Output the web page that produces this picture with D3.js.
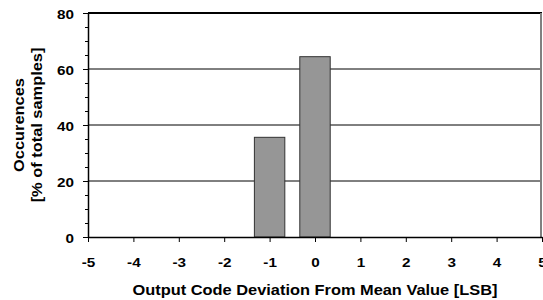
<!DOCTYPE html>
<html>
<head>
<meta charset="utf-8">
<script src="https://cdn.jsdelivr.net/npm/d3@7"></script>
<style>
  body { margin: 0; background: #fff; }
  svg text { font-family: "Liberation Sans", Arial, sans-serif; font-weight: bold; fill: #000; }
</style>
</head>
<body>
<div id="chart"></div>
<script>
// histogram of output code deviation
var codes = [-1, 0];
var occurences = [35.6, 64.4];
var xTicks = [-5, -4, -3, -2, -1, 0, 1, 2, 3, 4, 5];
var yTicks = [0, 20, 40, 60, 80];
var yMinorTicks = d3.range(0, 81, 5);

var margin = {top: 13, right: 1, bottom: 63, left: 88},
  width = 543 - margin.left - margin.right,
  height = 300 - margin.top - margin.bottom;

var svg = d3.select("#chart")
  .append("svg")
    .attr("width", 543)
    .attr("height", 300)
  .append("g")
    .attr("transform", "translate(" + margin.left + "," + margin.top + ")");

var x = d3.scaleLinear().domain([-5, 5]).range([0, width]);
var y = d3.scaleLinear().domain([0, 80]).range([height, 0]);
var barW = (x(1) - x(0)) * 0.67;

// the original glyphs are wider than Liberation Sans, stretch them a bit
function widen(sel, k) {
  sel.each(function() {
    var len = this.getComputedTextLength();
    d3.select(this)
      .attr("textLength", len * k)
      .attr("lengthAdjust", "spacingAndGlyphs");
  });
}

// gridlines
svg.selectAll(".grid")
  .data(yTicks.filter(function(d) { return d > 0; }))
  .enter()
  .append("line")
    .attr("x1", 0)
    .attr("x2", width)
    .attr("y1", function(d) { return y(d); })
    .attr("y2", function(d) { return y(d); })
    .attr("stroke", "#000")
    .attr("stroke-width", function(d) { return d == 80 ? 2 : 1; });

// right border
svg.append("line")
  .attr("x1", width - 1).attr("x2", width - 1)
  .attr("y1", 0).attr("y2", height)
  .attr("stroke", "#808080")
  .attr("stroke-width", 2);

// bars
svg.selectAll("rect.bar")
  .data(codes)
  .enter()
  .append("rect")
    .attr("class", "bar")
    .attr("x", function(d) { return x(d) - barW / 2; })
    .attr("y", function(d, i) { return y(occurences[i]); })
    .attr("width", barW)
    .attr("height", function(d, i) { return height - y(occurences[i]); })
    .attr("fill", "#969696")
    .attr("stroke", "#333")
    .attr("stroke-width", 1);

// minor y ticks
svg.append("g")
  .call(d3.axisLeft(y).tickValues(yMinorTicks).tickSize(3).tickFormat(""))
  .call(function(g) { g.select(".domain").remove(); });

var fmt = function(d) { return String(d); };

// y axis
var yAxis = svg.append("g")
  .call(d3.axisLeft(y).tickValues(yTicks).tickSize(5).tickSizeOuter(0).tickPadding(9).tickFormat(fmt));
yAxis.selectAll("text").style("font-size", "12.5px").attr("dy", "0.42em").call(widen, 1.22);
yAxis.select(".domain").attr("stroke-width", 1.5);

// x axis
var xAxis = svg.append("g")
  .attr("transform", "translate(0," + height + ")")
  .call(d3.axisBottom(x).tickValues(xTicks).tickSize(5).tickSizeOuter(0).tickPadding(16).tickFormat(fmt));
xAxis.selectAll("text").style("font-size", "12.5px").call(widen, 1.22);
xAxis.select(".domain").attr("stroke-width", 1.5);

// axis titles
svg.append("text")
  .attr("x", width / 2)
  .attr("y", height + 58)
  .attr("text-anchor", "middle")
  .style("font-size", "14px")
  .text("Output Code Deviation From Mean Value [LSB]")
  .call(widen, 1.17);

var yTitle = svg.append("text")
  .attr("transform", "translate(" + (-64) + "," + (height / 2) + ")rotate(-90)")
  .attr("text-anchor", "middle")
  .style("font-size", "14px");
yTitle.append("tspan").attr("x", 0).attr("dy", 0).text("Occurences");
yTitle.append("tspan").attr("x", 0).attr("dy", 17.5).text("[% of total samples]");
yTitle.selectAll("tspan").call(widen, 1.17);
</script>
</body>
</html>
